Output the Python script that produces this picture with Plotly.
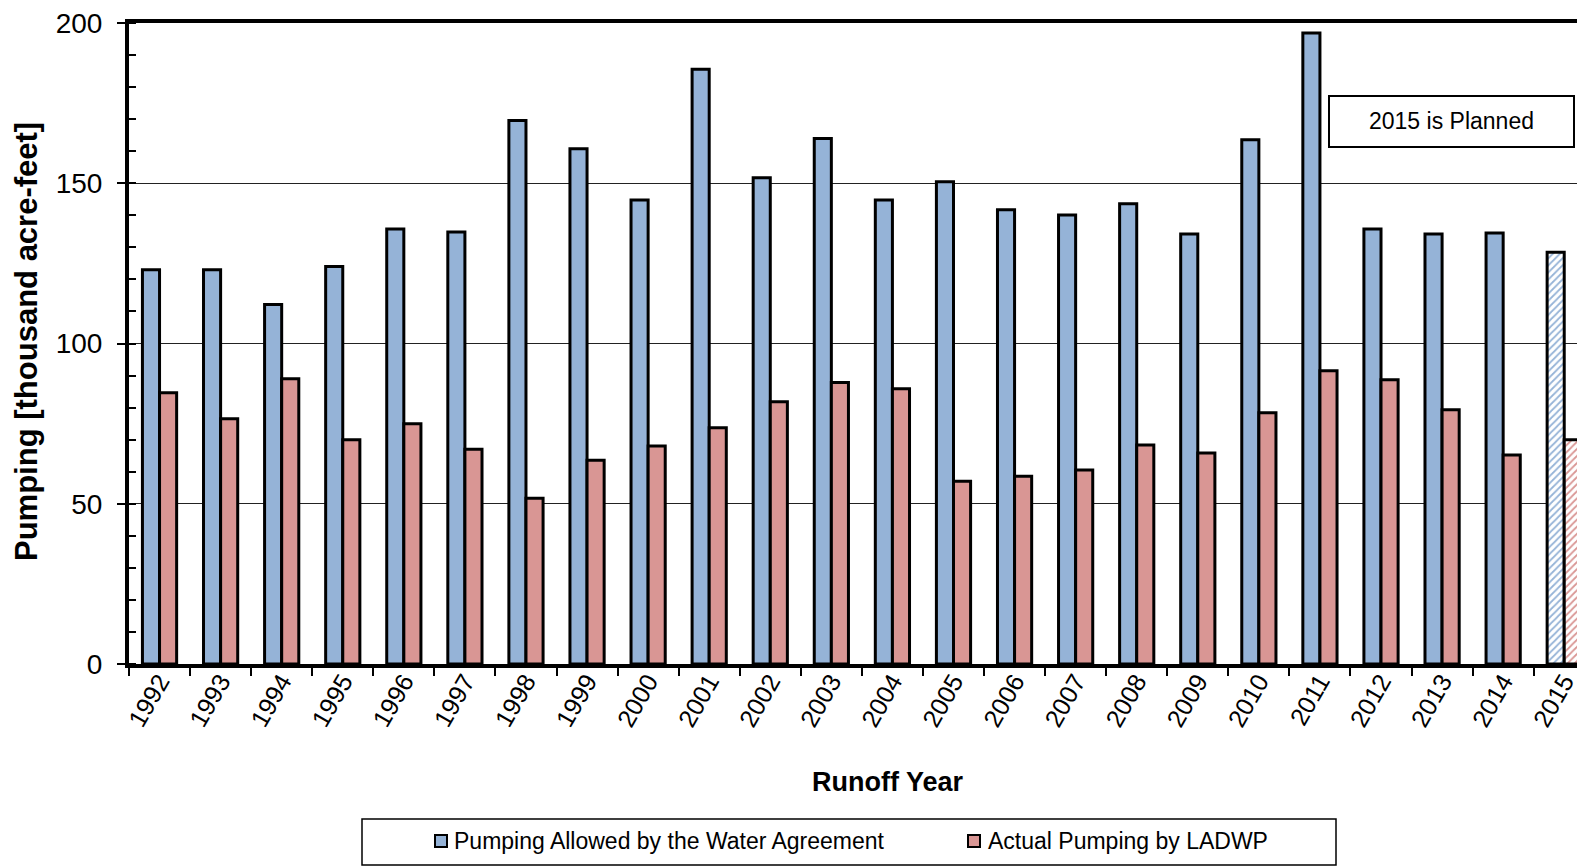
import plotly.graph_objects as go

years = ["1992", "1993", "1994", "1995", "1996", "1997", "1998", "1999", "2000", "2001",
         "2002", "2003", "2004", "2005", "2006", "2007", "2008", "2009", "2010", "2011",
         "2012", "2013", "2014", "2015"]
allowed = [123, 123, 112.2, 124, 135.7, 134.8, 169.6, 160.8, 144.8, 185.6,
           151.7, 164, 144.8, 150.5, 141.7, 140.1, 143.6, 134.2, 163.6, 196.9,
           135.7, 134.2, 134.5, 128.5]
actual = [84.6, 76.5, 89, 70, 75, 67, 51.7, 63.6, 68, 73.7,
          81.8, 87.8, 85.9, 57, 58.6, 60.5, 68.3, 65.8, 78.4, 91.5,
          88.7, 79.3, 65.2, 70]
planned_years = ["2015"]
series_names = ["Pumping Allowed by the Water Agreement", "Actual Pumping by LADWP"]
series_colors = ["#95B3D7", "#D99694"]
y_ticks = [0, 50, 100, 150, 200]

FONT = "Liberation Sans, Arial, sans-serif"
OFF = 8  # page body margin offset
W, H = 1585 - OFF, 866 - OFF
# reference-frame pixel geometry of plot area
PL, PT, PB, PR = 129, 23, 664, 1585
L, T = PL - OFF, PT - OFF
B = H - (PB - OFF)
R = 0
PW, PH = PR - PL, PB - PT


def px(x):
    return (x - PL) / PW


def py(y):
    return (PB - y) / PH


hatch = ["/" if y in planned_years else "" for y in years]

fig = go.Figure()
for name, vals, col in zip(series_names, [allowed, actual], series_colors):
    fig.add_trace(go.Bar(
        x=years, y=vals, name=name,
        marker=dict(color=col, line=dict(color="black", width=3),
                    pattern=dict(shape=hatch, fgcolor=col, bgcolor="white",
                                 size=5, solidity=0.35, fillmode="replace")),
        showlegend=False,
    ))

fig.update_layout(
    width=W, height=H,
    margin=dict(l=L, r=R, t=T, b=B, autoexpand=False),
    paper_bgcolor="white", plot_bgcolor="white",
    barmode="group", bargap=0.44, bargroupgap=0,
    font=dict(family=FONT, color="black"),
    showlegend=False,
)
fig.update_xaxes(
    type="category", range=[-0.5, 23.34],
    showline=True, linecolor="black", linewidth=4, mirror=True,
    ticks="outside", tickson="boundaries", ticklen=8, tickwidth=1.5, tickcolor="black",
    tickangle=-60, tickfont=dict(size=25, family=FONT), ticklabelstandoff=-11,
    ticklabeloverflow="allow",
    showgrid=False,
)
fig.update_yaxes(
    range=[0, 200], tickvals=y_ticks,
    showline=True, linecolor="black", linewidth=4,
    ticks="outside", ticklen=8, tickwidth=1.5, tickcolor="black",
    tickfont=dict(size=28, family=FONT), ticklabelstandoff=9,
    ticklabeloverflow="allow",
    showgrid=True, gridcolor="#222222", gridwidth=1,
    minor=dict(ticks="inside", dtick=10, ticklen=7, tickwidth=1.5, tickcolor="black", showgrid=False),
    zeroline=False,
)

# axis titles
fig.add_annotation(x=px(888), y=py(782), xref="paper", yref="paper", text="<b>Runoff Year</b>",
                   showarrow=False, font=dict(size=27, family=FONT), xanchor="center", yanchor="middle")
fig.add_annotation(x=px(26), y=py(342), xref="paper", yref="paper",
                   text="<b>Pumping [thousand acre-feet]</b>", textangle=-90,
                   showarrow=False, font=dict(size=31, family=FONT), xanchor="center", yanchor="middle")

# "2015 is Planned" box
fig.add_shape(type="rect", xref="paper", yref="paper", x0=px(1329), x1=px(1574), y0=py(147), y1=py(96),
              line=dict(color="black", width=2), fillcolor="white", layer="above")
fig.add_annotation(x=px(1451), y=py(121), xref="paper", yref="paper", text="2015 is Planned",
                   showarrow=False, font=dict(size=23, family=FONT), xanchor="center", yanchor="middle")

# legend
fig.add_shape(type="rect", xref="paper", yref="paper", x0=px(362), x1=px(1336), y0=py(865), y1=py(819),
              line=dict(color="black", width=1.5), fillcolor="white", layer="above")
for sx, tx, name, col in zip([435, 968], [452, 986], series_names, series_colors):
    fig.add_shape(type="rect", xref="paper", yref="paper", x0=px(sx), x1=px(sx + 12),
                  y0=py(847), y1=py(835), line=dict(color="black", width=2), fillcolor=col, layer="above")
    fig.add_annotation(x=px(tx), y=py(841), xref="paper", yref="paper", text=name,
                       showarrow=False, font=dict(size=23, family=FONT), xanchor="left", yanchor="middle")

fig.write_html("out.html")
